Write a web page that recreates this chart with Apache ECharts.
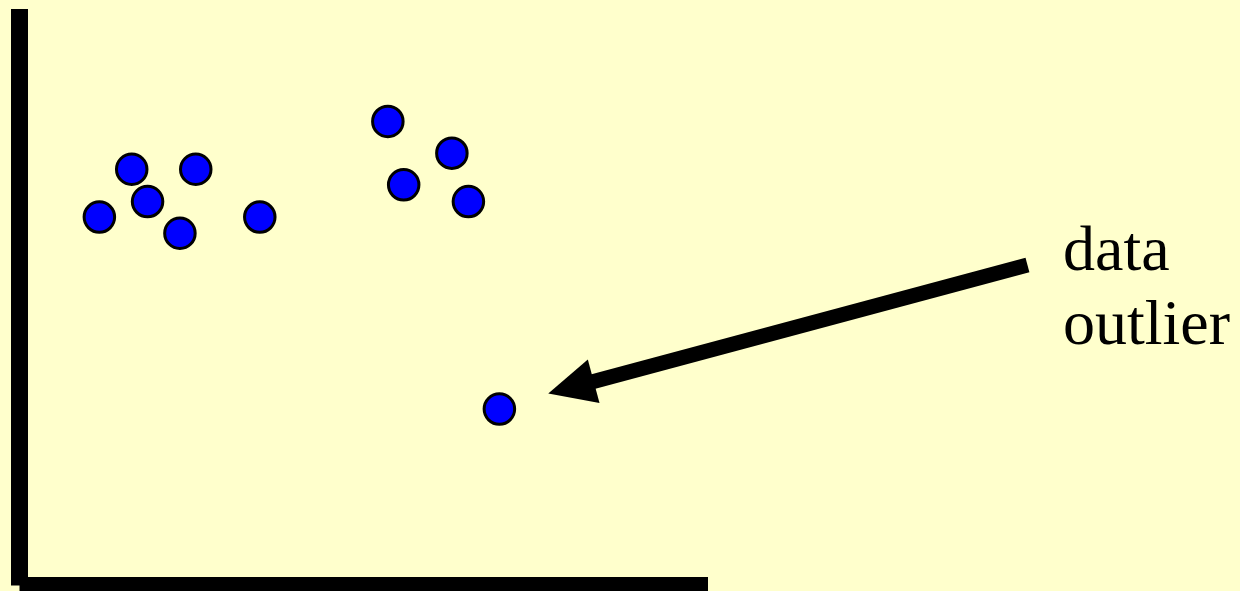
<!DOCTYPE html>
<html>
<head>
<meta charset="utf-8">
<script src="https://cdn.jsdelivr.net/npm/echarts@6.0.0/dist/echarts.min.js"></script>
<style>
html, body { margin: 0; padding: 0; background: #ffffcc; }
#box { width: 1240px; height: 591px; }
</style>
</head>
<body>
<div id="box"></div>
<script>
// point values (arbitrary 0-100 units on both axes)
var xValues = [16.3, 25.6, 18.6, 11.6, 23.3, 34.9, 53.5, 62.8, 55.8, 65.2, 69.7];
var yValues = [72.2, 72.2, 66.6, 63.9, 61.1, 63.9, 80.5, 75.0, 69.5, 66.6, 30.6];
// annotation arrow, in the same units
var arrowFrom = [146.4, 55.6];
var arrowTo = [76.8, 33.3];
var noteText = ['data', 'outlier'];

var points = xValues.map(function (x, i) { return [x, yValues[i]]; });

var dom = document.getElementById('box');
var myChart = echarts.init(dom);

var axisCommon = {
    type: 'value',
    min: 0,
    max: 100,
    axisLabel: { show: false },
    axisTick: { show: false },
    splitLine: { show: false },
    axisLine: {
        show: true,
        lineStyle: { color: '#000', width: 17, cap: 'butt' }
    }
};

option = {
    backgroundColor: '#ffffcc',
    animation: false,
    grid: {
        left: 19.5,
        top: 9,
        right: 532,
        bottom: 5.5
    },
    xAxis: axisCommon,
    yAxis: axisCommon,
    series: [{
        type: 'scatter',
        data: points,
        symbol: 'circle',
        symbolSize: 30.5,
        itemStyle: {
            color: '#0000ff',
            borderColor: '#000',
            borderWidth: 3,
            opacity: 1
        }
    }]
};
myChart.setOption(option, true);

// arrow + label, placed through the grid's scale
var p0 = myChart.convertToPixel({ gridIndex: 0 }, arrowFrom);
var p1 = myChart.convertToPixel({ gridIndex: 0 }, arrowTo);
var dx = p1[0] - p0[0], dy = p1[1] - p0[1];
var len = Math.sqrt(dx * dx + dy * dy);
var ux = dx / len, uy = dy / len;
var headLen = 47, headHalf = 22.5;
var back = [p1[0] - ux * headLen, p1[1] - uy * headLen];
var nx = -uy, ny = ux;

myChart.setOption({
    graphic: [{
        type: 'line',
        shape: { x1: p0[0], y1: p0[1], x2: back[0] + ux * 4, y2: back[1] + uy * 4 },
        style: { stroke: '#000', lineWidth: 15, lineCap: 'butt' },
        silent: true
    }, {
        type: 'polygon',
        shape: {
            points: [
                [p1[0], p1[1]],
                [back[0] + nx * headHalf, back[1] + ny * headHalf],
                [back[0] - nx * headHalf, back[1] - ny * headHalf]
            ]
        },
        style: { fill: '#000' },
        silent: true
    }, {
        type: 'text',
        left: 1063,
        top: 216,
        style: {
            text: noteText.join('\n'),
            fill: '#000',
            font: '64px "Liberation Serif", "Times New Roman", serif',
            lineHeight: 74
        },
        silent: true
    }]
});
</script>
</body>
</html>
